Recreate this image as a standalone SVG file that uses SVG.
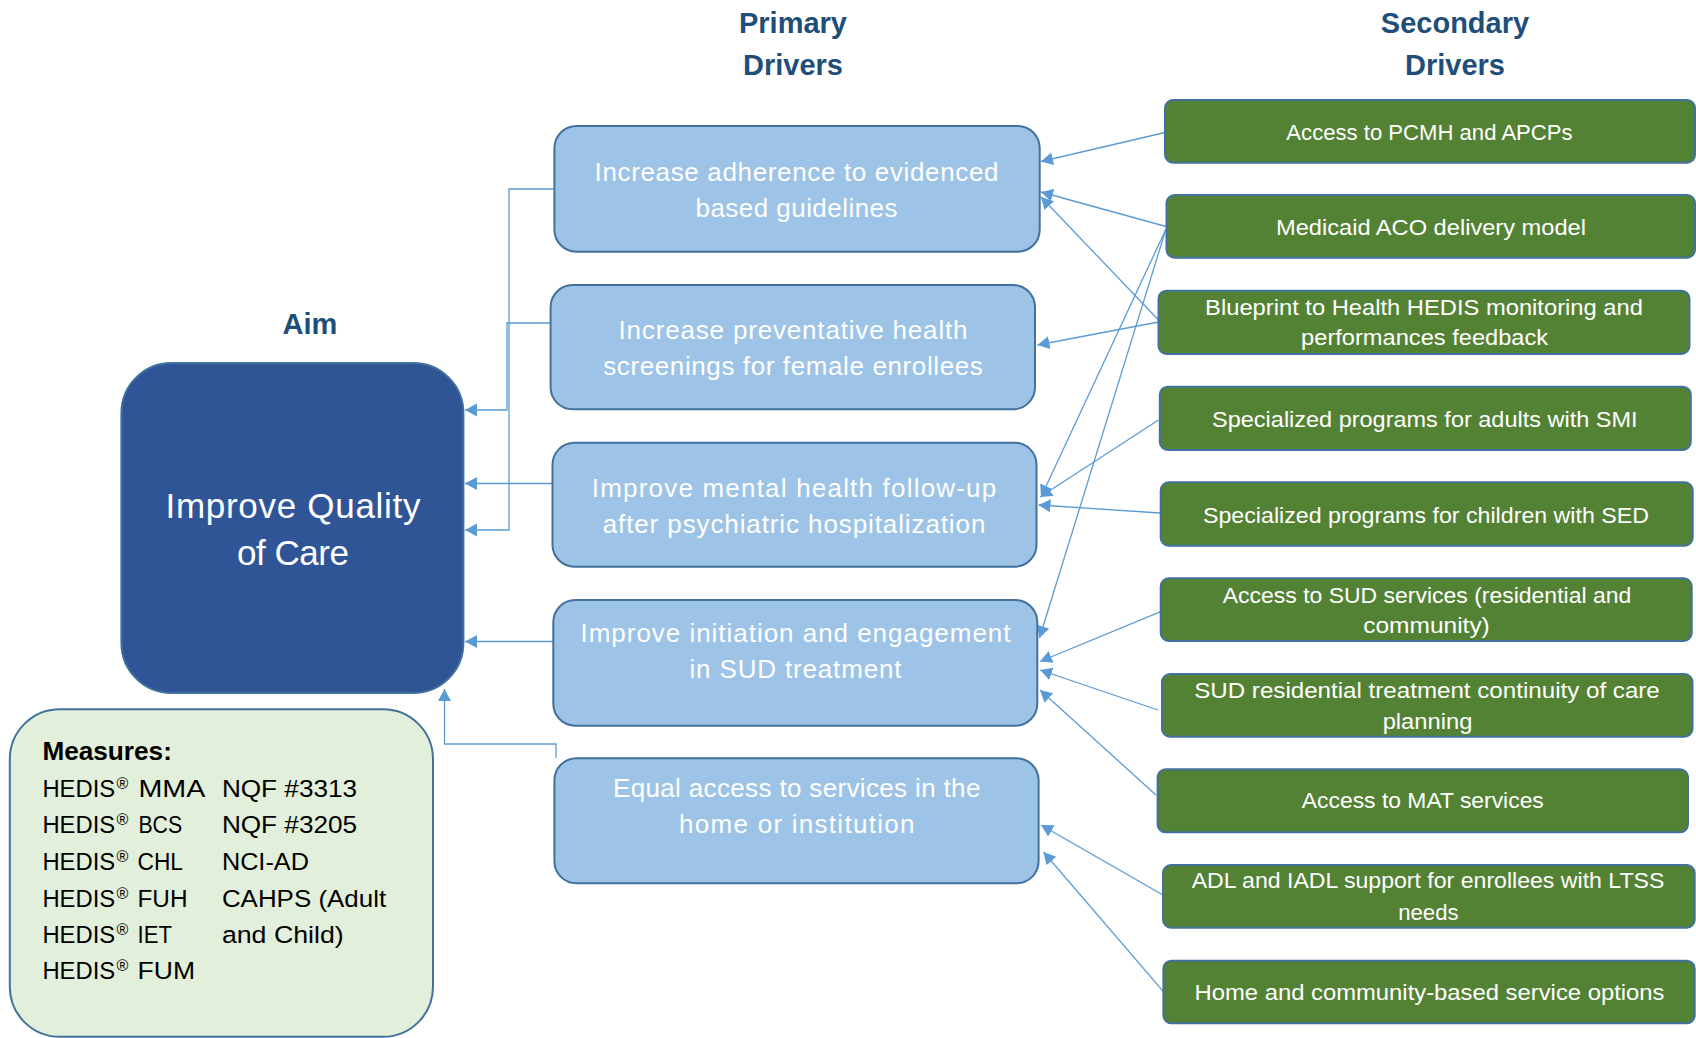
<svg xmlns="http://www.w3.org/2000/svg" width="1696" height="1038" viewBox="0 0 1696 1038">
<style>
text{font-family:"Liberation Sans",Arial,sans-serif}
.hdr{font-size:29px;font-weight:bold;fill:#1F4E79;text-anchor:middle}
.aim{fill:#2F5597;stroke:#41719C;stroke-width:2}
.aimt{font-size:35px;fill:#fff;text-anchor:middle}
.pri{fill:#9DC3E6;stroke:#41719C;stroke-width:2}
.prit{font-size:26px;fill:#fff;text-anchor:middle}
.sec{fill:#548235;stroke:#41719C;stroke-width:2}
.sect{font-size:22px;fill:#fff;text-anchor:middle}
.meas{fill:#E2EFDA;stroke:#41719C;stroke-width:2}
.mt{font-size:24.5px;fill:#000}
.reg{font-size:16px;fill:#000}
.mb{font-size:25.5px;font-weight:bold;fill:#000}
.con{fill:none;stroke:#5B9BD5;stroke-width:1.3;marker-end:url(#arr)}
</style>
<defs>
<marker id="arr" markerUnits="userSpaceOnUse" markerWidth="14" markerHeight="14" refX="12" refY="6.5" orient="auto">
<path d="M0,0 L12,6.5 L0,13 z" fill="#5B9BD5"/>
</marker>
</defs>

<g id="headers">
<text class="hdr" x="793" y="33">Primary</text>
<text class="hdr" x="793" y="75">Drivers</text>
<text class="hdr" x="1455" y="33">Secondary</text>
<text class="hdr" x="1455" y="75">Drivers</text>
<text class="hdr" x="310" y="334">Aim</text>
</g>

<g id="connectors">
<path class="con" d="M555,189 H509 V530 H465"/>
<path class="con" d="M550.5,323 H507 V410 H465"/>
<path class="con" d="M552.5,483.5 H465"/>
<path class="con" d="M553.3,641.5 H465"/>
<path class="con" d="M556,758 V744 H444.5 V689"/>
<line class="con" x1="1165" y1="132.5" x2="1041" y2="161.5"/>
<line class="con" x1="1166" y1="226.5" x2="1041" y2="192"/>
<line class="con" x1="1166" y1="229" x2="1041" y2="497"/>
<line class="con" x1="1166" y1="229" x2="1039.5" y2="638"/>
<line class="con" x1="1158.5" y1="320" x2="1041" y2="197"/>
<line class="con" x1="1158.5" y1="322" x2="1037.5" y2="345"/>
<line class="con" x1="1158.5" y1="420" x2="1040" y2="497"/>
<line class="con" x1="1160" y1="513" x2="1038.5" y2="505"/>
<line class="con" x1="1160.7" y1="611.7" x2="1040" y2="661.5"/>
<line class="con" x1="1158" y1="710" x2="1040" y2="670"/>
<line class="con" x1="1156" y1="795" x2="1040" y2="690"/>
<line class="con" x1="1163" y1="895" x2="1041" y2="825"/>
<line class="con" x1="1163.4" y1="991.7" x2="1043.5" y2="852"/>
</g>

<g id="aim">
<rect class="aim" x="121.4" y="363" width="342" height="330" rx="50" ry="50"/>
<text class="aimt" x="293" y="518" textLength="255">Improve Quality</text>
<text class="aimt" x="293" y="565" textLength="112">of Care</text>
</g>

<g id="measures">
<rect class="meas" x="9.8" y="709.2" width="423.2" height="327.6" rx="50" ry="50"/>
<text class="mb" x="42.4" y="760" textLength="129.5" lengthAdjust="spacingAndGlyphs">Measures:</text>
<text class="mt" x="42.4" y="796.7" textLength="72.8" lengthAdjust="spacingAndGlyphs">HEDIS</text>
<text class="reg" x="116.5" y="788.7">®</text>
<text class="mt" x="138.4" y="796.7" textLength="66.9" lengthAdjust="spacingAndGlyphs">MMA</text>
<text class="mt" x="221.9" y="796.7" textLength="135.2" lengthAdjust="spacingAndGlyphs">NQF #3313</text>
<text class="mt" x="42.4" y="833.4" textLength="72.8" lengthAdjust="spacingAndGlyphs">HEDIS</text>
<text class="reg" x="116.5" y="825.4">®</text>
<text class="mt" x="138.4" y="833.4" textLength="43.7" lengthAdjust="spacingAndGlyphs">BCS</text>
<text class="mt" x="221.9" y="833.4" textLength="135.2" lengthAdjust="spacingAndGlyphs">NQF #3205</text>
<text class="mt" x="42.4" y="870" textLength="72.8" lengthAdjust="spacingAndGlyphs">HEDIS</text>
<text class="reg" x="116.5" y="862">®</text>
<text class="mt" x="137.5" y="870" textLength="45.5" lengthAdjust="spacingAndGlyphs">CHL</text>
<text class="mt" x="221.9" y="870" textLength="87" lengthAdjust="spacingAndGlyphs">NCI-AD</text>
<text class="mt" x="42.4" y="906.6" textLength="72.8" lengthAdjust="spacingAndGlyphs">HEDIS</text>
<text class="reg" x="116.5" y="898.6">®</text>
<text class="mt" x="137.5" y="906.6" textLength="50" lengthAdjust="spacingAndGlyphs">FUH</text>
<text class="mt" x="221.9" y="906.6" textLength="164.2" lengthAdjust="spacingAndGlyphs">CAHPS (Adult</text>
<text class="mt" x="42.4" y="943.2" textLength="72.8" lengthAdjust="spacingAndGlyphs">HEDIS</text>
<text class="reg" x="116.5" y="935.2">®</text>
<text class="mt" x="137.5" y="943.2" textLength="34.4" lengthAdjust="spacingAndGlyphs">IET</text>
<text class="mt" x="221.9" y="943.2" textLength="121.8" lengthAdjust="spacingAndGlyphs">and Child)</text>
<text class="mt" x="42.4" y="978.6" textLength="72.8" lengthAdjust="spacingAndGlyphs">HEDIS</text>
<text class="reg" x="116.5" y="970.6">®</text>
<text class="mt" x="137.5" y="978.6" textLength="57.5" lengthAdjust="spacingAndGlyphs">FUM</text>
</g>

<g id="primary1">
<rect class="pri" x="554.4" y="126" width="485.3" height="125.7" rx="22" ry="22"/>
<text class="prit" x="796.5" y="181" textLength="404">Increase adherence to evidenced</text>
<text class="prit" x="796.5" y="216.7" textLength="202">based guidelines</text>
</g>
<g id="primary2">
<rect class="pri" x="550.6" y="285" width="484.4" height="124.3" rx="22" ry="22"/>
<text class="prit" x="793" y="339.3" textLength="349">Increase preventative health</text>
<text class="prit" x="793" y="375" textLength="379.6">screenings for female enrollees</text>
</g>
<g id="primary3">
<rect class="pri" x="552.5" y="442.7" width="484" height="124" rx="22" ry="22"/>
<text class="prit" x="794" y="496.7" textLength="404.5">Improve mental health follow-up</text>
<text class="prit" x="794" y="532.7" textLength="382.7">after psychiatric hospitalization</text>
</g>
<g id="primary4">
<rect class="pri" x="553.3" y="600" width="484" height="125.7" rx="22" ry="22"/>
<text class="prit" x="795.5" y="641.7" textLength="430">Improve initiation and engagement</text>
<text class="prit" x="795.5" y="678.3" textLength="212">in SUD treatment</text>
</g>
<g id="primary5">
<rect class="pri" x="554.4" y="758.3" width="484.2" height="125" rx="22" ry="22"/>
<text class="prit" x="796.7" y="797.3" textLength="367.4">Equal access to services in the</text>
<text class="prit" x="796.7" y="833.3" textLength="235.4">home or institution</text>
</g>

<g id="secondary1">
<rect class="sec" x="1165" y="100" width="530" height="62.7" rx="8" ry="8"/>
<text class="sect" x="1429.5" y="140" textLength="286.3" lengthAdjust="spacingAndGlyphs">Access to PCMH and APCPs</text>
</g>
<g id="secondary2">
<rect class="sec" x="1166.5" y="195" width="528.5" height="62.7" rx="8" ry="8"/>
<text class="sect" x="1431" y="235" textLength="310" lengthAdjust="spacingAndGlyphs">Medicaid ACO delivery model</text>
</g>
<g id="secondary3">
<rect class="sec" x="1158.5" y="290.7" width="531" height="63.3" rx="8" ry="8"/>
<text class="sect" x="1424" y="315" textLength="437.8" lengthAdjust="spacingAndGlyphs">Blueprint to Health HEDIS monitoring and</text>
<text class="sect" x="1424.6" y="345" textLength="247" lengthAdjust="spacingAndGlyphs">performances feedback</text>
</g>
<g id="secondary4">
<rect class="sec" x="1159.8" y="386.7" width="531" height="63.3" rx="8" ry="8"/>
<text class="sect" x="1424.8" y="426.7" textLength="425.4" lengthAdjust="spacingAndGlyphs">Specialized programs for adults with SMI</text>
</g>
<g id="secondary5">
<rect class="sec" x="1160.7" y="482.3" width="532" height="63.4" rx="8" ry="8"/>
<text class="sect" x="1426" y="522.7" textLength="446" lengthAdjust="spacingAndGlyphs">Specialized programs for children with SED</text>
</g>
<g id="secondary6">
<rect class="sec" x="1160.7" y="578.3" width="531" height="62.7" rx="8" ry="8"/>
<text class="sect" x="1427" y="602.7" textLength="408.4" lengthAdjust="spacingAndGlyphs">Access to SUD services (residential and</text>
<text class="sect" x="1426.5" y="632.7" textLength="126.6" lengthAdjust="spacingAndGlyphs">community)</text>
</g>
<g id="secondary7">
<rect class="sec" x="1162" y="674" width="530.5" height="62.7" rx="8" ry="8"/>
<text class="sect" x="1427" y="698.3" textLength="465.6" lengthAdjust="spacingAndGlyphs">SUD residential treatment continuity of care</text>
<text class="sect" x="1427.5" y="729.3" textLength="89.7" lengthAdjust="spacingAndGlyphs">planning</text>
</g>
<g id="secondary8">
<rect class="sec" x="1157.6" y="769.3" width="530.4" height="63" rx="8" ry="8"/>
<text class="sect" x="1422.8" y="808.3" textLength="242" lengthAdjust="spacingAndGlyphs">Access to MAT services</text>
</g>
<g id="secondary9">
<rect class="sec" x="1163" y="865" width="531.7" height="62.7" rx="8" ry="8"/>
<text class="sect" x="1428" y="888.3" textLength="472.7" lengthAdjust="spacingAndGlyphs">ADL and IADL support for enrollees with LTSS</text>
<text class="sect" x="1428.4" y="920" textLength="60.3" lengthAdjust="spacingAndGlyphs">needs</text>
</g>
<g id="secondary10">
<rect class="sec" x="1163.4" y="960.7" width="531.3" height="62.6" rx="8" ry="8"/>
<text class="sect" x="1429.5" y="1000" textLength="470" lengthAdjust="spacingAndGlyphs">Home and community-based service options</text>
</g>
</svg>
